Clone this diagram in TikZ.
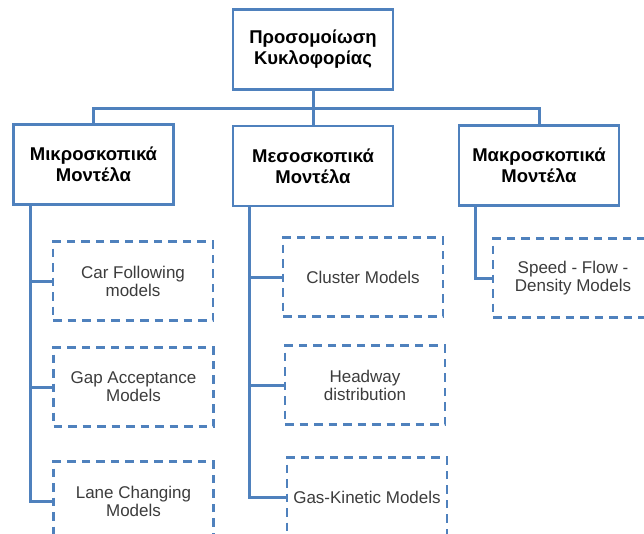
\documentclass[tikz,border=0pt]{standalone}
\usepackage{fontspec}
\setmainfont{Liberation Sans}
\definecolor{boxblue}{RGB}{79,129,189}
\definecolor{txtgray}{RGB}{60,60,60}
\begin{document}
\begin{tikzpicture}[x=1pt,y=-1pt,
  mainbox/.style={draw=boxblue,line width=2.8pt,fill=white,minimum width=160pt,minimum height=80pt,
    align=center,font=\fontsize{18.5}{21}\selectfont\bfseries,text=black,inner sep=0pt},
  leafbox/.style={draw=boxblue,line width=2.6pt,dash pattern=on 8.5pt off 6pt,fill=white,
    minimum width=160pt,minimum height=79pt,align=center,
    font=\fontsize{17}{18}\selectfont,text=txtgray,inner sep=0pt},
  link/.style={draw=boxblue,line width=3pt}]
\useasboundingbox (0,0) rectangle (644,533);
\fill[white] (0,0) rectangle (644,533);
\begin{scope}
\clip (0,0) rectangle (644,533);
% main boxes
\node[mainbox] (top) at (313,49.5) {Προσομοίωση\\Κυκλοφορίας};
\node[mainbox] (micro) at (93.5,164.5) {Μικροσκοπικά\\Μοντέλα};
\node[mainbox] (meso) at (313,166) {Μεσοσκοπικά\\Μοντέλα};
\node[mainbox] (macro) at (539,165.5) {Μακροσκοπικά\\Μοντέλα};
\coordinate (bus) at (313,108.5);
\draw[link] (top.south) -- (meso.north);
\draw[link] (micro.north) |- (bus) -| (macro.north);
% micro leaves
\node[leafbox] (car) at (133,281) {Car Following\\models};
\node[leafbox] (gap) at (133.5,387) {Gap Acceptance\\Models};
\node[leafbox] (lane) at (133.5,501) {Lane Changing\\Models};
\coordinate (ms) at ([xshift=18pt]micro.south west);
\draw[link] (ms) |- (lane.west);
\draw[link] (car.west) -- (car.west -| ms);
\draw[link] (gap.west) -- (gap.west -| ms);
% meso leaves
\node[leafbox] (cluster) at (363,277) {Cluster Models};
\node[leafbox] (headway) at (365,385) {Headway\\distribution};
\node[leafbox] (gas) at (367,497) {Gas-Kinetic Models};
\coordinate (mes) at ([xshift=18pt]meso.south west);
\draw[link] (mes) |- (gas.west);
\draw[link] (cluster.west) -- (cluster.west -| mes);
\draw[link] (headway.west) -- (headway.west -| mes);
% macro leaf
\node[leafbox] (speed) at (573,278) {Speed - Flow -\\Density Models};
\coordinate (mas) at ([xshift=18pt]macro.south west);
\draw[link] (mas) |- (speed.west);
\end{scope}
\end{tikzpicture}
\end{document}
